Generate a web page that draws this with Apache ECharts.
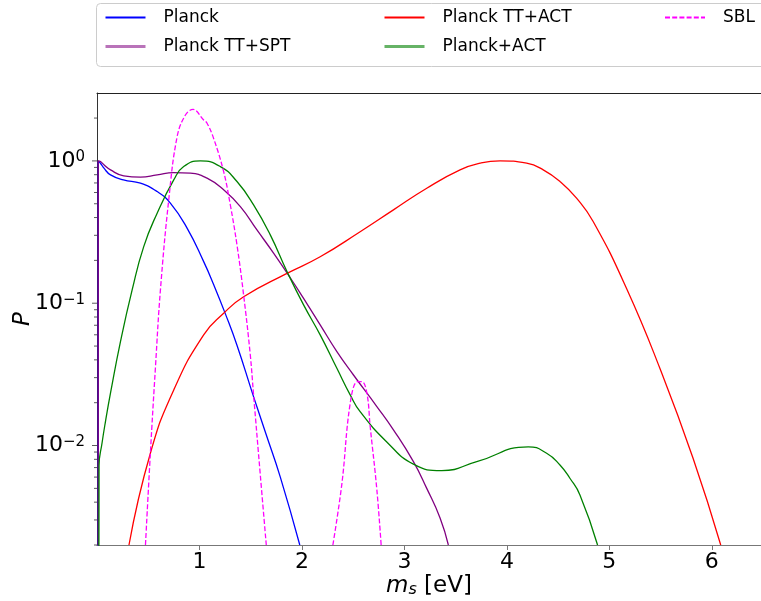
<!DOCTYPE html>
<html>
<head>
<meta charset="utf-8">
<script src="https://cdn.jsdelivr.net/npm/echarts@6/dist/echarts.min.js"></script>
<style>
  html, body { margin: 0; padding: 0; background: #fff; }
  #chart { width: 761px; height: 601px; }
</style>
</head>
<body>
<div id="chart"></div>
<script>
// values: [m_s in eV, P]
const planck = [[0.012, 0.001], [0.012, 1.0], [0.034, 0.963], [0.07, 0.885], [0.132, 0.797], [0.258, 0.735],
  [0.424, 0.697], [0.587, 0.609], [0.716, 0.505], [0.879, 0.337], [1.041, 0.196], [1.138, 0.1355],
  [1.252, 0.0845], [1.366, 0.0507], [1.522, 0.0227], [1.65, 0.012], [1.789, 0.0060], [1.979, 0.002]]
const planckTTSPT = [[0.012, 0.001], [0.012, 1.0], [0.034, 0.989], [0.07, 0.937], [0.132, 0.864], [0.261, 0.785],
  [0.424, 0.768], [0.587, 0.797], [0.749, 0.828], [0.911, 0.820], [1.074, 0.756], [1.236, 0.626],
  [1.399, 0.477], [1.561, 0.327], [1.723, 0.225], [1.886, 0.151], [2.016, 0.108], [2.178, 0.0704],
  [2.341, 0.0457], [2.503, 0.0313], [2.731, 0.0188], [2.893, 0.0129], [3.088, 0.0077], [3.218, 0.0050],
  [3.348, 0.0031], [3.429, 0.002]]
const planckTTACT = [[0.312, 0.002], [0.521, 0.00883], [0.749, 0.0246], [1.041, 0.060], [1.236, 0.085],
  [1.431, 0.111], [1.854, 0.162], [2.178, 0.212], [2.568, 0.318], [2.893, 0.453], [3.218, 0.643],
  [3.543, 0.865], [3.738, 0.963], [3.933, 1.0], [4.193, 0.963], [4.355, 0.865], [4.52, 0.715],
  [4.68, 0.547], [4.842, 0.375], [5.168, 0.127], [5.493, 0.0349], [5.817, 0.00814], [6.087, 0.002]]
const planckACT = [[0.018, 0.001], [0.02, 0.0072], [0.05, 0.0105], [0.083, 0.0148], [0.132, 0.0234],
  [0.229, 0.0537], [0.343, 0.124], [0.456, 0.250], [0.587, 0.429], [0.749, 0.735], [0.846, 0.912],
  [1.009, 1.0], [1.204, 0.912], [1.366, 0.716], [1.528, 0.491], [1.691, 0.302], [1.854, 0.167],
  [2.016, 0.0973], [2.178, 0.0599], [2.341, 0.0349], [2.471, 0.0227], [2.568, 0.0173], [2.828, 0.0106],
  [3.088, 0.0074], [3.365, 0.00666], [3.706, 0.0077], [4.209, 0.0098], [4.388, 0.00883], [4.518, 0.0073],
  [4.615, 0.00589], [4.713, 0.0045], [4.885, 0.002]]
// SBL has two separate bumps
const sblLow = [[0.473, 0.002], [0.521, 0.00887], [0.570, 0.0351], [0.619, 0.124], [0.700, 0.532],
  [0.782, 1.48], [0.863, 2.10], [0.937, 2.30], [1.041, 1.94], [1.074, 1.84], [1.138, 1.44],
  [1.236, 0.841], [1.301, 0.491], [1.366, 0.257], [1.431, 0.114], [1.496, 0.0433], [1.528, 0.0227],
  [1.593, 0.0063], [1.652, 0.002]]
const sblHigh = [[2.302, 0.002], [2.390, 0.0054], [2.471, 0.0198], [2.542, 0.0281], [2.585, 0.0281],
  [2.634, 0.0233], [2.666, 0.0136], [2.731, 0.0049], [2.773, 0.002]]

const xTicks = [1, 2, 3, 4, 5, 6]
const yMajorTicks = [0.01, 0.1, 1]
const yMinorTicks = [0.002, 0.003, 0.004, 0.005, 0.006, 0.007, 0.008, 0.009,
  0.02, 0.03, 0.04, 0.05, 0.06, 0.07, 0.08, 0.09,
  0.2, 0.3, 0.4, 0.5, 0.6, 0.7, 0.8, 0.9, 2]

const FONT = 'DejaVu Sans'
const myChart = echarts.init(document.getElementById('chart'))

function curve(name, data, color, extra) {
  return Object.assign({
    name: name,
    type: 'line',
    data: data,
    symbol: 'none',
    showSymbol: false,
    smooth: 0.5,
    lineStyle: {color: color, width: 1.3},
    itemStyle: {color: color},
    z: 3
  }, extra)
}

function tickMarks(values, len) {
  return {
    type: 'scatter',
    data: values.map(v => [0, v]),
    symbol: 'rect',
    symbolSize: [len, 1],
    symbolOffset: [-len / 2, 0],
    itemStyle: {color: '#333'},
    clip: false,
    silent: true,
    z: 5
  }
}

const legendBase = {
  orient: 'vertical',
  padding: 0,
  top: 9,
  itemWidth: 40,
  itemHeight: 12,
  itemGap: 12,
  selectedMode: false,
  itemStyle: {opacity: 0},
  textStyle: {fontFamily: FONT, fontSize: 17, color: '#000', padding: [0, 0, 0, 13]}
}

const dashed = {lineStyle: {color: '#ff00ff', width: 1.3, type: [5, 2.2]}, smooth: 0.4}

myChart.setOption({
  animation: false,
  grid: {left: 97, right: 0, top: 93, bottom: 56, containLabel: false, outerBoundsMode: 'none'},
  graphic: [{
    type: 'rect',
    shape: {x: 96.5, y: 3.5, width: 720, height: 63, r: 4},
    style: {fill: 'rgba(255,255,255,0.8)', stroke: '#cccccc', lineWidth: 1},
    silent: true,
    z: -1
  }],
  legend: [
    Object.assign({}, legendBase, {left: 104, data: [
      'Planck',
      {name: 'Planck TT+SPT', lineStyle: {width: 3, opacity: 0.55}}
    ]}),
    Object.assign({}, legendBase, {left: 383, data: [
      'Planck TT+ACT',
      {name: 'Planck+ACT', lineStyle: {width: 3, opacity: 0.6}}
    ]}),
    Object.assign({}, legendBase, {left: 664, data: ['SBL']})
  ],
  xAxis: [{
    type: 'value',
    min: 0,
    max: 6.48,
    interval: 1,
    axisLine: {show: true, onZero: false, lineStyle: {color: '#777', width: 1}},
    axisTick: {show: true, length: 5, lineStyle: {color: '#777'}, customValues: xTicks},
    axisLabel: {fontFamily: FONT, fontSize: 22, color: '#000', margin: 6, customValues: xTicks},
    splitLine: {show: false},
    name: '{i|m}{sub|s}{n| [eV]}',
    nameLocation: 'middle',
    nameGap: 30,
    nameMoveOverlap: false,
    nameTextStyle: {
      rich: {
        i: {fontFamily: FONT, fontStyle: 'italic', fontSize: 23, color: '#000', lineHeight: 23, verticalAlign: 'top'},
        sub: {fontFamily: FONT, fontStyle: 'italic', fontSize: 16, color: '#000', lineHeight: 16,
          padding: [9, 0, 0, 0], verticalAlign: 'bottom'},
        n: {fontFamily: FONT, fontSize: 23, color: '#000', lineHeight: 23, verticalAlign: 'top'}
      }
    }
  }, {
    type: 'value',
    position: 'top',
    min: 0,
    max: 6.48,
    axisLine: {show: true, onZero: false, lineStyle: {color: '#222', width: 1}},
    axisTick: {show: false},
    axisLabel: {show: false},
    splitLine: {show: false}
  }],
  yAxis: {
    type: 'log',
    logBase: 10,
    min: 0.002,
    max: 3,
    axisLine: {show: true, onZero: false, lineStyle: {color: '#333', width: 1}},
    axisTick: {show: false},
    minorTick: {show: false},
    splitLine: {show: false},
    axisLabel: {
      margin: 12,
      showMinLabel: false,
      showMaxLabel: false,
      formatter: function (v) {
        const e = Math.round(Math.log10(v))
        if (Math.abs(Math.log10(v) - e) > 1e-6) return ''
        return '{b|10}{s|' + (e < 0 ? '\u2212' + (-e) : e) + '}'
      },
      rich: {
        b: {fontFamily: FONT, fontSize: 22, color: '#000', lineHeight: 22, verticalAlign: 'bottom'},
        s: {fontFamily: FONT, fontSize: 15, color: '#000', lineHeight: 15, verticalAlign: 'top'}
      }
    },
    name: 'P',
    nameLocation: 'middle',
    nameGap: 62,
    nameRotate: 90,
    nameMoveOverlap: false,
    nameTextStyle: {fontFamily: FONT, fontStyle: 'italic', fontSize: 23, color: '#000'}
  },
  series: [
    curve('Planck', planck, '#0000ff'),
    curve('Planck TT+SPT', planckTTSPT, '#800080'),
    curve('Planck TT+ACT', planckTTACT, '#ff0000'),
    curve('Planck+ACT', planckACT, '#008000'),
    curve('SBL', sblLow, '#ff00ff', dashed),
    curve('SBL', sblHigh, '#ff00ff', dashed),
    tickMarks(yMajorTicks, 5),
    tickMarks(yMinorTicks, 3)
  ]
})
</script>
</body>
</html>
